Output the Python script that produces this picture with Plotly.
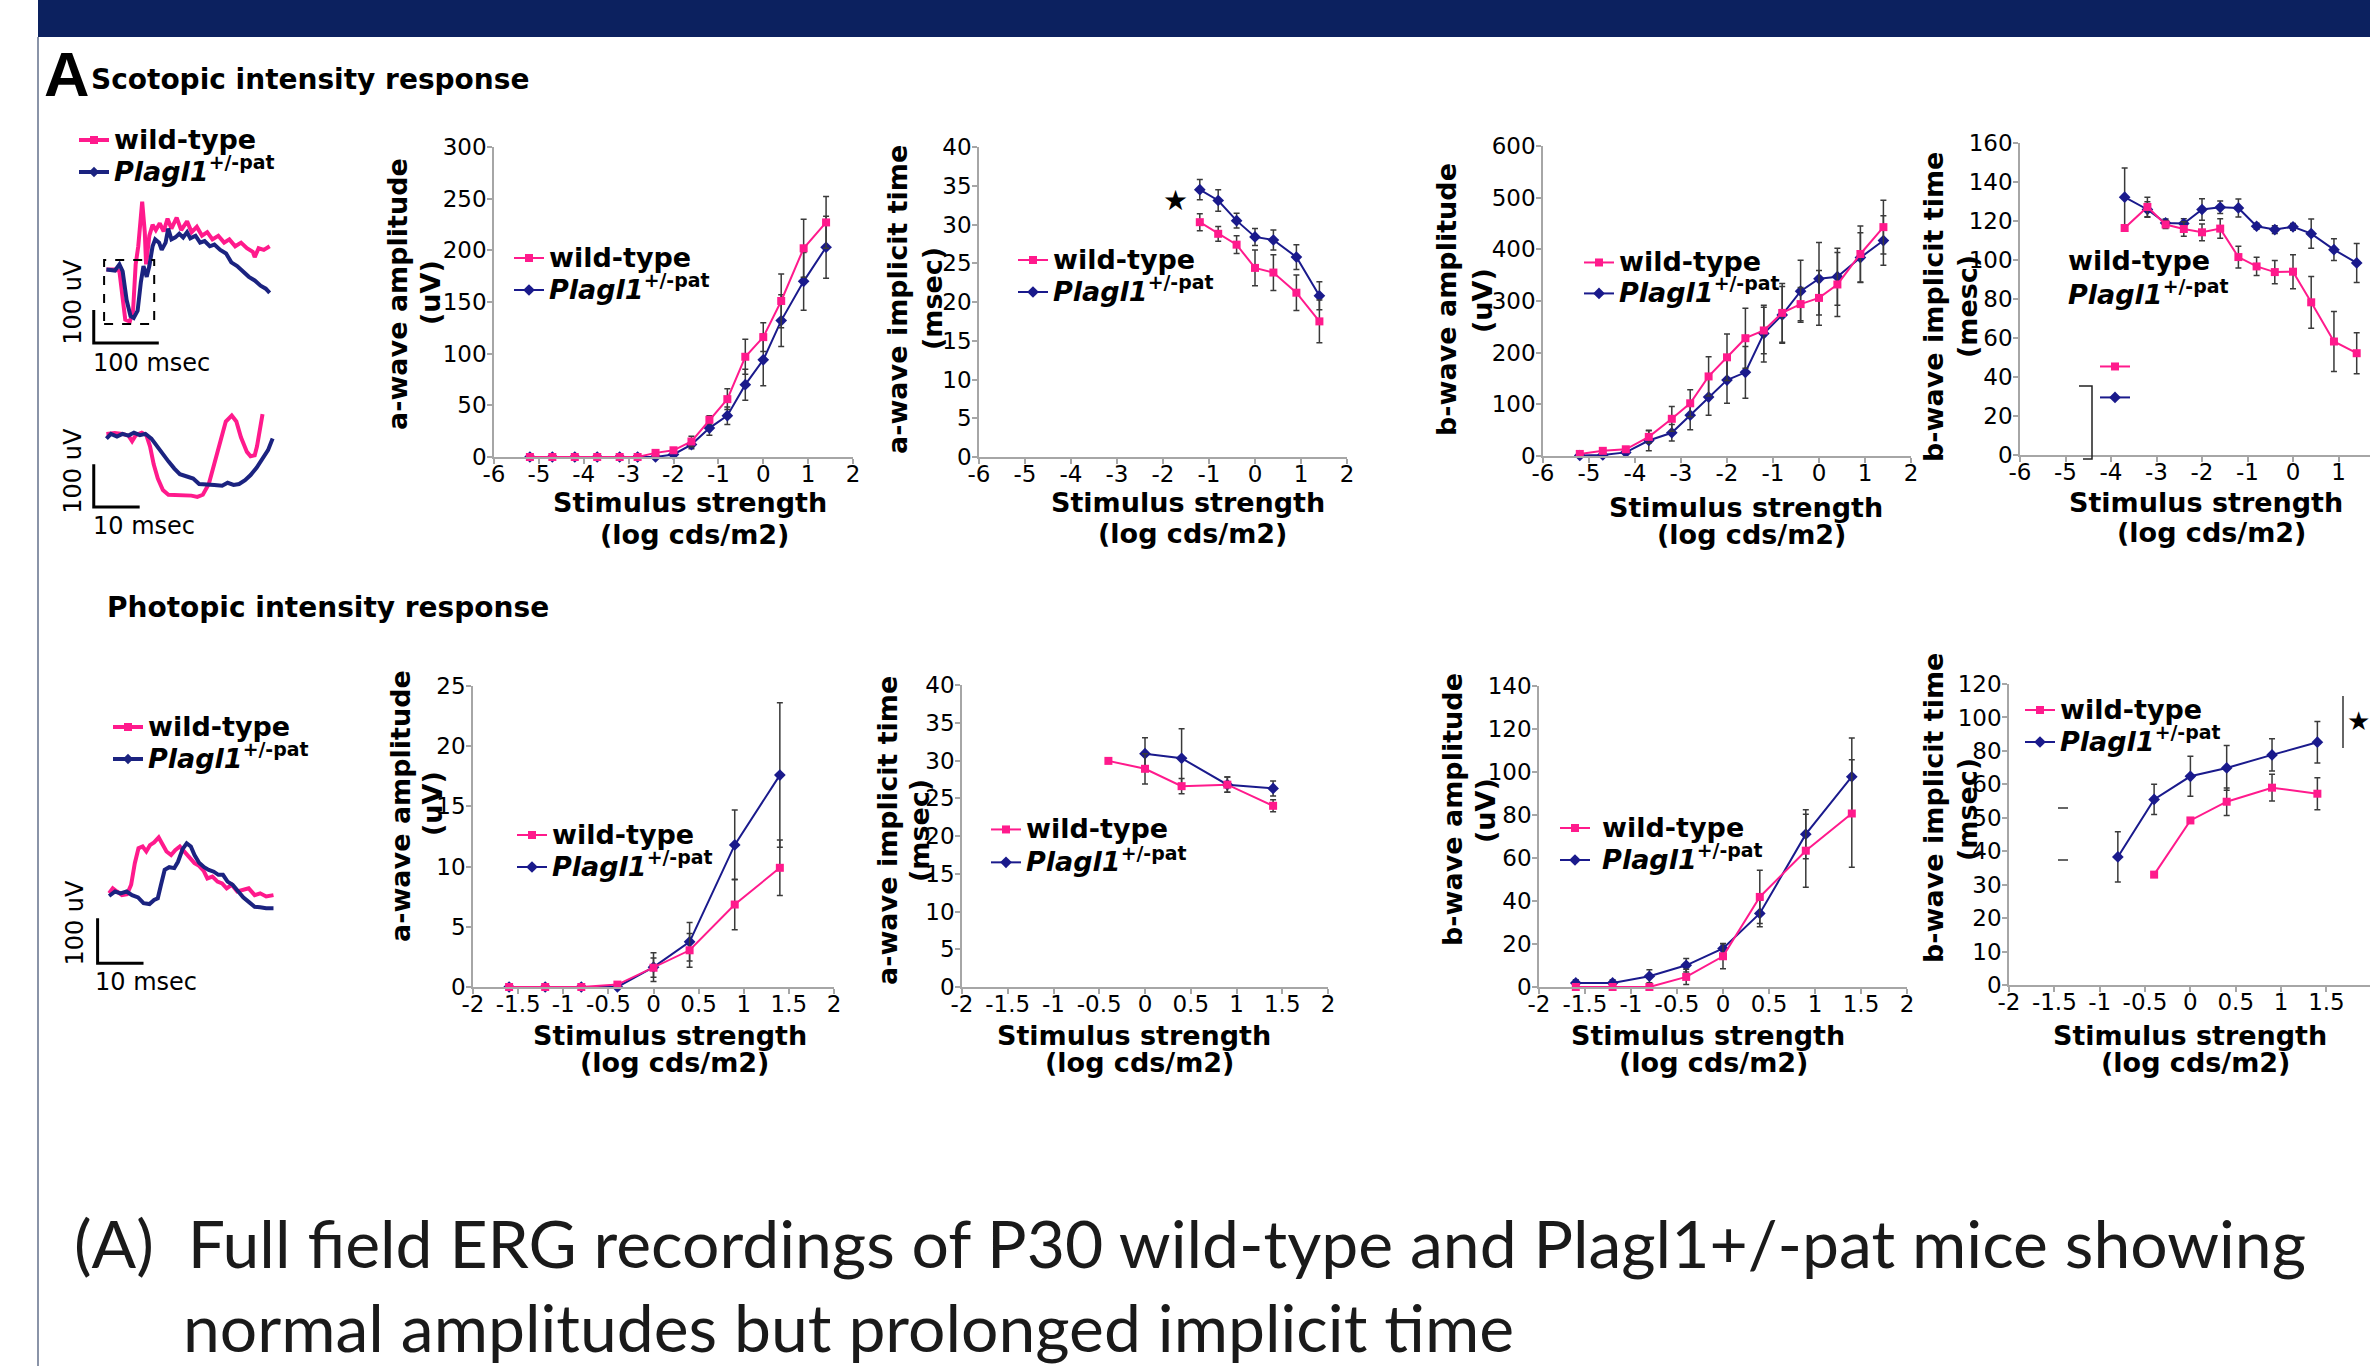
import plotly.graph_objects as go

# ---------------- data ----------------
SCOT_X = [-5.2, -4.7, -4.2, -3.7, -3.2, -2.8, -2.4, -2.0, -1.6, -1.2, -0.8, -0.4, 0, 0.4, 0.9, 1.4]
scot_a_amp_wt = [0, 0, 0, 0, 0, 0, 4, 6.5, 15, 36, 56, 97, 116, 151, 202, 227]
scot_a_amp_wt_err = [0, 0, 0, 0, 0, 0, 1, 2, 5, 4, 10, 17, 14, 26, 28, 25]
scot_a_amp_ko = [0, 0, 0, 0, 0, 0, 0, 2.5, 12, 28, 40, 70, 94, 132, 170, 203]
scot_a_amp_ko_err = [0, 0, 0, 0, 0, 0, 0, 1, 4, 7, 8.5, 15, 25, 25, 28, 30]

SCOT_IT_X = [-1.2, -0.8, -0.4, 0, 0.4, 0.9, 1.4]
scot_a_it_wt = [30.3, 28.8, 27.4, 24.4, 23.8, 21.2, 17.5]
scot_a_it_wt_err = [1.1, 0.95, 1.15, 2.3, 2.3, 2.3, 2.75]
scot_a_it_ko = [34.5, 33.1, 30.5, 28.4, 28.0, 25.8, 20.8]
scot_a_it_ko_err = [1.3, 1.4, 0.95, 1.1, 1.3, 1.6, 1.8]

scot_b_amp_wt = [4, 10, 13, 37, 72, 102, 154, 191, 228, 243, 277, 294, 306, 332, 391, 443]
scot_b_amp_wt_err = [2, 4, 5, 12, 24, 26, 38, 45, 58, 45, 57, 32, 53, 62, 54, 52]
scot_b_amp_ko = [1, 2, 7, 30, 45, 79, 114, 147, 162, 237, 273, 319, 343, 347, 384, 417]
scot_b_amp_ko_err = [1, 2, 4, 20, 16, 28, 35, 45, 50, 55, 55, 60, 70, 55, 48, 48]

SCOT_BIT_X = [-3.7, -3.2, -2.8, -2.4, -2.0, -1.6, -1.2, -0.8, -0.4, 0, 0.4, 0.9, 1.4]
scot_b_it_wt = [116.4, 127.2, 118.2, 115.9, 114.2, 116.1, 101.5, 96.7, 93.8, 94.0, 78.3, 58.2, 52.2]
scot_b_it_wt_err = [0, 5, 2, 3.7, 4.3, 5, 5.6, 4.7, 6, 8.7, 13.3, 15.4, 10.5]
scot_b_it_ko = [132.2, 125.9, 119, 118.7, 125.9, 127, 126.7, 117.3, 115.6, 117, 113.5, 105.3, 98.5]
scot_b_it_ko_err = [15, 4, 2, 2.5, 5.5, 3.2, 4.6, 1.5, 2, 1.7, 7.5, 5.6, 10]

PHOT_X = [-1.6, -1.2, -0.8, -0.4, 0, 0.4, 0.9, 1.4]
phot_a_amp_wt = [0, 0, 0, 0.2, 1.6, 3.05, 6.85, 9.9]
phot_a_amp_wt_err = [0, 0, 0, 0, 0.8, 1.4, 2.1, 2.3]
phot_a_amp_ko = [0, 0, 0, 0, 1.65, 3.75, 11.8, 17.6]
phot_a_amp_ko_err = [0, 0, 0, 0, 1.2, 1.6, 2.9, 6.0]

PHOT_A_IT_WT_X = [-0.4, 0, 0.4, 0.9, 1.4]
phot_a_it_wt = [29.95, 28.9, 26.6, 26.8, 24.0]
phot_a_it_wt_err = [0, 2.0, 1.0, 1.0, 0.8]
PHOT_A_IT_KO_X = [0, 0.4, 0.9, 1.4]
phot_a_it_ko = [30.9, 30.3, 26.8, 26.3]
phot_a_it_ko_err = [2.1, 3.9, 1.0, 1.0]

phot_b_amp_wt = [0, 0, 0, 4.7, 14.3, 41.9, 63.4, 80.7]
phot_b_amp_wt_err = [0, 0, 0, 3.5, 5.8, 12.4, 17, 25]
phot_b_amp_ko = [1.9, 1.9, 5, 10.1, 17.9, 34.2, 71.1, 97.8]
phot_b_amp_ko_err = [1.5, 1.5, 3, 3.1, 2.3, 6.2, 11.4, 18]

# photopic b-wave implicit time: values in the panel's (evenly spaced) tick units
PHOT_B_IT_WT_X = [-0.4, 0, 0.4, 0.9, 1.4]
phot_b_it_wt = [33.0, 49.2, 54.8, 59.0, 57.2]
phot_b_it_wt_err = [0, 0, 4.1, 4.0, 4.8]
PHOT_B_IT_KO_X = [-0.8, -0.4, 0, 0.4, 0.9, 1.4]
phot_b_it_ko = [38.3, 55.5, 62.4, 64.9, 68.8, 72.6]
phot_b_it_ko_err = [7.5, 4.5, 6, 6.7, 4.8, 6.2]
PHOT_B_IT_TICKVALS = [0, 10, 20, 30, 40, 50, 60, 70, 80, 90]
PHOT_B_IT_TICKTEXT = ["0", "10", "20", "30", "40", "50", "60", "80", "100", "120"]

SCOT_TICKVALS = [-6, -5, -4, -3, -2, -1, 0, 1, 2]
SCOT_TICKTEXT = ["-6", "-5", "-4", "-3", "-2", "-1", "0", "1", "2"]
PHOT_TICKVALS = [-2, -1.5, -1, -0.5, 0, 0.5, 1, 1.5, 2]
PHOT_TICKTEXT = ["-2", "-1.5", "-1", "-0.5", "0", "0.5", "1", "1.5", "2"]

# ERG waveforms (time in msec, amplitude in uV)
scot_wave_t_wt = [0, 13, 20, 25, 29, 36, 41, 45, 49, 55, 59, 61, 66, 71, 76, 82, 88, 94, 100, 108, 115, 124, 131,
                  139, 147, 155, 163, 172, 181, 189, 198, 207, 216, 225, 228, 234, 242, 251]
scot_wave_v_wt = [0, 0, -5, -82, -152, -158, -125, 16, 71, 207, 114, 16, 103, 136, 120, 141, 116, 155, 125, 158, 120,
                  147, 114, 130, 103, 114, 92, 103, 82, 92, 71, 82, 65, 54, 38, 65, 60, 71]
scot_wave_t_ko = [0, 13, 20, 25, 31, 37, 42, 48, 53, 57, 62, 66, 71, 75, 81, 85, 91, 95, 100, 106, 112, 118, 124, 129,
                  137, 144, 151, 159, 166, 175, 184, 192, 201, 209, 219, 228, 237, 245, 251]
scot_wave_v_ko = [0, -3, 16, -5, -92, -141, -147, -125, -38, 11, -22, 11, 71, 92, 82, 60, 82, 125, 92, 98, 109, 98,
                  114, 95, 103, 82, 87, 71, 76, 60, 49, 22, 11, -5, -22, -33, -49, -58, -71]

zoom_wave_t_wt = [0, 1.8, 3.5, 4.8, 5.6, 6.4, 7.7, 8.7, 9.5, 10.3, 11.2, 12.3, 13.5, 15.2, 16.8, 18.5, 19.8, 21, 22.3,
                  23.5, 24.8, 26, 27.3, 28.3, 29.3, 30.6, 31.4, 32.3, 32.8, 33.5, 34]
zoom_wave_v_wt = [0, 2, 0, -4, -17, -3, 3, -3, -29, -71, -104, -131, -142, -142, -142, -144, -147, -142, -117, -71,
                  -13, 29, 43, 29, -8, -42, -52, -50, -29, 13, 46]
zoom_wave_t_ko = [0, 1, 2.3, 3.5, 4.8, 6, 7.3, 8.5, 9.8, 11, 12.3, 13.5, 14.8, 16, 17.7, 18.9, 20.2, 21.8, 23.5, 25.2,
                  26.4, 27.7, 28.9, 30.2, 31.4, 32.7, 33.9, 35.2, 36.2]
zoom_wave_v_ko = [-11, 0, -6, 0, -4, 3, -3, 0, -11, -29, -48, -64, -81, -94, -100, -104, -117, -117, -119, -121, -114,
                  -119, -117, -108, -96, -79, -58, -38, -11]

phot_wave_t_wt = [0, 0.8, 1.7, 2.8, 3.9, 4.8, 5.6, 6.4, 7.3, 8.1, 8.9, 9.8, 10.8, 11.7, 12.5, 13.5, 14.4, 15.4, 16.4,
                  17.5, 18.6, 19.6, 20.6, 21.4, 22.5, 23.6, 24.6, 25.6, 26.7, 27.9, 29.2, 30.4, 31.7, 32.9, 34.2, 35.8]
phot_wave_v_wt = [0, 11, 4, -4, -2, 19, 67, 100, 104, 93, 107, 113, 124, 107, 93, 85, 96, 104, 93, 78, 67, 61, 50, 33,
                  37, 26, 22, 11, 19, 4, 7, 11, -4, 0, -7, -4]
phot_wave_t_ko = [0, 1.3, 2.5, 3.8, 5, 6.3, 7.5, 8.8, 9.8, 10.6, 11.3, 12.1, 13.1, 14.2, 15, 16, 16.9, 17.8, 18.6,
                  19.6, 20.7, 21.7, 22.8, 23.8, 24.8, 25.8, 26.9, 28.1, 29.2, 30.4, 31.7, 32.9, 34.2, 35.8]
phot_wave_v_ko = [-6, 4, 0, 4, -4, -9, -22, -24, -15, -11, 19, 52, 58, 56, 70, 98, 111, 104, 85, 68, 58, 52, 48, 41,
                  41, 26, 19, 4, -9, -19, -30, -31, -33, -33]

# ---------------- styling / layout helpers ----------------
W, H = 2370, 1366
PINK = "#FF1A8C"
NAVY = "#1A1A8C"
WAVE_PINK = "#FF1A8C"
WAVE_BLUE = "#1B2380"
ERRC = "#3A3A3A"
AXC = "#A6A6A6"
FONT = "DejaVu Sans"


def fx(p):
    return p / W


def fy(p):
    return 1 - p / H


def names(n):
    return ("x" if n == 1 else f"x{n}", "y" if n == 1 else f"y{n}",
            "xaxis" if n == 1 else f"xaxis{n}", "yaxis" if n == 1 else f"yaxis{n}")


def legname(n):
    return "legend" if n == 1 else f"legend{n}"


WT_NAME = "<span style='font-size:27px'><b>wild-type</b></span>"
KO_NAME = "<span style='font-size:27px'><b><i>Plagl1</i><sup>+/-pat</sup></b></span>"

fig = go.Figure()
layout = {}
annotations = []
shapes = []

# legend font size only sets the row spacing (text size is given in the names)
panels = [
    dict(n=1, xp=(494, 853), yp=(147, 457), x0=-6, ppu=(853 - 494) / 8, yr=(0, 300), dt=50, tv=SCOT_TICKVALS,
         tt=SCOT_TICKTEXT, wt=(SCOT_X, scot_a_amp_wt, scot_a_amp_wt_err), ko=(SCOT_X, scot_a_amp_ko, scot_a_amp_ko_err),
         leg=(509, 237, 22.3)),
    dict(n=2, xp=(979, 1347), yp=(147, 457), x0=-6, ppu=(1347 - 979) / 8, yr=(0, 40), dt=5, tv=SCOT_TICKVALS,
         tt=SCOT_TICKTEXT, wt=(SCOT_IT_X, scot_a_it_wt, scot_a_it_wt_err),
         ko=(SCOT_IT_X, scot_a_it_ko, scot_a_it_ko_err), leg=(1013, 239, 22.3)),
    dict(n=3, xp=(1543, 1911), yp=(146, 456), x0=-6, ppu=(1911 - 1543) / 8, yr=(0, 600), dt=100, tv=SCOT_TICKVALS,
         tt=SCOT_TICKTEXT, wt=(SCOT_X, scot_b_amp_wt, scot_b_amp_wt_err), ko=(SCOT_X, scot_b_amp_ko, scot_b_amp_ko_err),
         leg=(1579, 242, 21.5)),
    dict(n=4, xp=(2020, 2370), yp=(143, 455), x0=-6, ppu=45.5, yr=(0, 160), dt=20, tv=SCOT_TICKVALS,
         tt=SCOT_TICKTEXT, wt=(SCOT_BIT_X, scot_b_it_wt, scot_b_it_wt_err),
         ko=(SCOT_BIT_X, scot_b_it_ko, scot_b_it_ko_err), leg=(2095, 346, 21.5), blank=True),
    dict(n=5, xp=(473, 834), yp=(686, 987), x0=-2, ppu=(834 - 473) / 4, yr=(0, 25), dt=5, tv=PHOT_TICKVALS,
         tt=PHOT_TICKTEXT, wt=(PHOT_X, phot_a_amp_wt, phot_a_amp_wt_err), ko=(PHOT_X, phot_a_amp_ko, phot_a_amp_ko_err),
         leg=(512, 814, 22.3)),
    dict(n=6, xp=(962, 1328), yp=(685, 987), x0=-2, ppu=(1328 - 962) / 4, yr=(0, 40), dt=5, tv=PHOT_TICKVALS,
         tt=PHOT_TICKTEXT, wt=(PHOT_A_IT_WT_X, phot_a_it_wt, phot_a_it_wt_err),
         ko=(PHOT_A_IT_KO_X, phot_a_it_ko, phot_a_it_ko_err), leg=(986, 808, 23)),
    dict(n=7, xp=(1539, 1907), yp=(686, 987), x0=-2, ppu=(1907 - 1539) / 4, yr=(0, 140), dt=20, tv=PHOT_TICKVALS,
         tt=PHOT_TICKTEXT, wt=(PHOT_X, phot_b_amp_wt, phot_b_amp_wt_err), ko=(PHOT_X, phot_b_amp_ko, phot_b_amp_ko_err),
         leg=(1555, 807, 22.3), pad=" "),
    dict(n=8, xp=(2009, 2370), yp=(684, 985), x0=-2, ppu=90.7, yr=(0, 90), dt=None, tv=PHOT_TICKVALS,
         tt=PHOT_TICKTEXT, wt=(PHOT_B_IT_WT_X, phot_b_it_wt, phot_b_it_wt_err),
         ko=(PHOT_B_IT_KO_X, phot_b_it_ko, phot_b_it_ko_err), leg=(2020, 689, 22.3),
         ytv=PHOT_B_IT_TICKVALS, ytt=PHOT_B_IT_TICKTEXT),
]

for p in panels:
    n = p["n"]
    xn, yn, xk, yk = names(n)
    lg = legname(n)
    pad = p.get("pad", "")
    if p.get("blank"):
        wn, kn = " ", " "
    else:
        wn, kn = pad + WT_NAME, pad + KO_NAME
    kx, ky, ke = p["ko"]
    wx, wy, we = p["wt"]
    fig.add_trace(go.Scatter(
        x=kx, y=ky, mode="lines+markers", name=kn, legend=lg, legendrank=2,
        xaxis=xn, yaxis=yn, cliponaxis=False,
        line=dict(color=NAVY, width=2),
        marker=dict(symbol="diamond", size=9, color=NAVY),
        error_y=dict(type="data", array=ke, visible=True, color=ERRC, thickness=1.5, width=3)))
    fig.add_trace(go.Scatter(
        x=wx, y=wy, mode="lines+markers", name=wn, legend=lg, legendrank=1,
        xaxis=xn, yaxis=yn, cliponaxis=False,
        line=dict(color=PINK, width=2),
        marker=dict(symbol="square", size=8, color=PINK),
        error_y=dict(type="data", array=we, visible=True, color=ERRC, thickness=1.5, width=3)))
    x_end = p["x0"] + (p["xp"][1] - p["xp"][0]) / p["ppu"]
    layout[xk] = dict(domain=[fx(p["xp"][0]), fx(p["xp"][1])], range=[p["x0"], x_end], anchor=yn,
                      tickmode="array", tickvals=p["tv"], ticktext=p["tt"], showline=True, linecolor=AXC,
                      linewidth=1.5, ticks="outside", ticklen=5, tickcolor=AXC, tickwidth=1.5, showgrid=False,
                      zeroline=False, automargin=False, ticklabelstandoff=-9,
                      tickfont=dict(family=FONT, size=23, color="black"), fixedrange=True)
    ya = dict(domain=[fy(p["yp"][1]), fy(p["yp"][0])], range=list(p["yr"]), anchor=xn,
              showline=True, linecolor=AXC, linewidth=1.5, ticks="outside", ticklen=5, tickcolor=AXC,
              tickwidth=1.5, showgrid=False, zeroline=False, automargin=False, ticklabelstandoff=-4,
              tickfont=dict(family=FONT, size=23, color="black"), fixedrange=True)
    if p.get("ytv"):
        ya.update(tickmode="array", tickvals=p["ytv"], ticktext=p["ytt"])
    else:
        ya.update(tick0=0, dtick=p["dt"])
    layout[yk] = ya
    lx, ly, lfs = p["leg"]
    layout[lg] = dict(x=fx(lx), y=fy(ly), xanchor="left", yanchor="top",
                      bgcolor="rgba(0,0,0,0)", borderwidth=0, itemwidth=30, tracegroupgap=0,
                      font=dict(family=FONT, size=lfs, color="black"), traceorder="normal")

# ---------------- ERG waveform insets ----------------
insets = [
    dict(n=9, xp=(60, 290), yp=(170, 380), t0=106.4, ppm=0.6505, v0=269.6, ppv=0.3286, bar=(93.75, 342.9), bms=100,
         wt=(scot_wave_t_wt, scot_wave_v_wt), ko=(scot_wave_t_ko, scot_wave_v_ko), leg=(74, 119, 22.3)),
    dict(n=10, xp=(60, 290), yp=(395, 530), t0=106.4, ppm=4.592, v0=433.9, ppv=0.4286, bar=(93.75, 507.1), bms=10,
         wt=(zoom_wave_t_wt, zoom_wave_v_wt), ko=(zoom_wave_t_ko, zoom_wave_v_ko), leg=None),
    dict(n=11, xp=(60, 290), yp=(830, 1000), t0=109.1, ppm=4.592, v0=893.3, ppv=0.45, bar=(97.6, 963.3), bms=10,
         wt=(phot_wave_t_wt, phot_wave_v_wt), ko=(phot_wave_t_ko, phot_wave_v_ko), leg=(108, 706, 22.3)),
]
for s in insets:
    n = s["n"]
    xn, yn, xk, yk = names(n)
    lg = "legend10" if n == 11 else "legend9"
    show = s["leg"] is not None
    for (tt, vv), col, sym, nm, rank in [(s["wt"], WAVE_PINK, "square", WT_NAME, 1),
                                        (s["ko"], WAVE_BLUE, "diamond", KO_NAME, 2)]:
        fig.add_trace(go.Scatter(
            x=tt, y=vv, mode="lines+markers", name=nm, showlegend=show, legend=lg, legendrank=rank,
            xaxis=xn, yaxis=yn, cliponaxis=False, line=dict(color=col, width=4),
            marker=dict(symbol=sym, size=8, color=col),
            selectedpoints=[], unselected=dict(marker=dict(opacity=0))))
    t_lo = (s["xp"][0] - s["t0"]) / s["ppm"]
    t_hi = (s["xp"][1] - s["t0"]) / s["ppm"]
    v_lo = (s["v0"] - s["yp"][1]) / s["ppv"]
    v_hi = (s["v0"] - s["yp"][0]) / s["ppv"]
    layout[xk] = dict(domain=[fx(s["xp"][0]), fx(s["xp"][1])], range=[t_lo, t_hi], visible=False, anchor=yn,
                      fixedrange=True, automargin=False)
    layout[yk] = dict(domain=[fy(s["yp"][1]), fy(s["yp"][0])], range=[v_lo, v_hi], visible=False, anchor=xn,
                      fixedrange=True, automargin=False)
    bt = (s["bar"][0] - s["t0"]) / s["ppm"]
    bv = (s["v0"] - s["bar"][1]) / s["ppv"]
    shapes.append(dict(type="path", xref=xn, yref=yn,
                       path=f"M{bt},{bv + 100} L{bt},{bv} L{bt + s['bms']},{bv}",
                       line=dict(color="black", width=3)))
    if show:
        lx, ly, fs = s["leg"]
        layout[lg] = dict(x=fx(lx), y=fy(ly), xanchor="left", yanchor="top", bgcolor="rgba(0,0,0,0)",
                          borderwidth=0, itemwidth=30, tracegroupgap=0, traceorder="normal",
                          font=dict(family=FONT, size=fs, color="black"))

# dashed zoom box on the top scotopic waveform
s9 = insets[0]
shapes.append(dict(type="rect", xref="x9", yref="y9",
                   x0=(104.1 - s9["t0"]) / s9["ppm"], x1=(154.2 - s9["t0"]) / s9["ppm"],
                   y0=(s9["v0"] - 323.9) / s9["ppv"], y1=(s9["v0"] - 260) / s9["ppv"],
                   line=dict(color="black", width=2, dash="dash")))

# scale-bar labels
for txt, cx, cy, ang in [("100 uV", 72.7, 302, -90), ("100 msec", 151.7, 362.5, 0),
                         ("100 uV", 72.7, 471, -90), ("10 msec", 143.5, 525.7, 0),
                         ("100 uV", 74.6, 923, -90), ("10 msec", 146.4, 981.7, 0)]:
    annotations.append(dict(text=txt, x=fx(cx), y=fy(cy), xref="paper", yref="paper", showarrow=False,
                            xanchor="center", yanchor="middle", textangle=ang,
                            font=dict(family=FONT, size=24, color="black")))

# ---------------- axis titles ----------------
ytitles = [("a-wave amplitude", 398, 294), ("(uV)", 430, 293),
           ("a-wave implicit time", 898, 300), ("(msec)", 932, 299),
           ("b-wave amplitude", 1447, 300), ("(uV)", 1482, 301),
           ("b-wave implicit time", 1933, 307), ("(mesc)", 1967, 306),
           ("a-wave amplitude", 400, 806), ("(uV)", 432, 804),
           ("a-wave implicit time", 888, 831), ("(msec)", 920, 831),
           ("b-wave amplitude", 1452, 810), ("(uV)", 1485, 811),
           ("b-wave implicit time", 1933, 808), ("(msec)", 1967, 809)]
for txt, cx, cy in ytitles:
    annotations.append(dict(text=f"<b>{txt}</b>", x=fx(cx), y=fy(cy), xref="paper", yref="paper",
                            showarrow=False, xanchor="center", yanchor="middle", textangle=-90,
                            font=dict(family=FONT, size=27, color="black")))
xt_pos = [(690, 503, 694, 534), (1188, 503, 1192, 533), (1746, 507, 1751, 535), (2206, 503, 2211, 532),
          (670, 1035, 674, 1062), (1134, 1035, 1139, 1062), (1708, 1035, 1713, 1062), (2190, 1035, 2195, 1062)]
for a, b, c, d in xt_pos:
    annotations.append(dict(text="<b>Stimulus strength</b>", x=fx(a), y=fy(b), xref="paper", yref="paper",
                            showarrow=False, xanchor="center", yanchor="middle",
                            font=dict(family=FONT, size=27, color="black")))
    annotations.append(dict(text="<b>(log cds/m2)</b>", x=fx(c), y=fy(d), xref="paper", yref="paper",
                            showarrow=False, xanchor="center", yanchor="middle",
                            font=dict(family=FONT, size=27, color="black")))

# detached legend text of the scotopic b-wave implicit time panel
annotations.append(dict(text="<b>wild-type</b>", x=fx(2066), y=fy(260), xref="paper", yref="paper",
                        showarrow=False, xanchor="left", yanchor="middle",
                        font=dict(family=FONT, size=27, color="black")))
annotations.append(dict(text="<b><i>Plagl1</i><sup>+/-pat</sup></b>", x=fx(2066), y=fy(292), xref="paper",
                        yref="paper", showarrow=False, xanchor="left", yanchor="middle",
                        font=dict(family=FONT, size=27, color="black")))

# headings
annotations.append(dict(text="<b>A</b>", x=fx(42), y=fy(74), xref="paper", yref="paper", showarrow=False,
                        xanchor="left", yanchor="middle",
                        font=dict(family="Liberation Sans", size=63, color="black")))
annotations.append(dict(text="<b>Scotopic intensity response</b>", x=fx(89), y=fy(79), xref="paper",
                        yref="paper", showarrow=False, xanchor="left", yanchor="middle",
                        font=dict(family=FONT, size=28, color="black")))
annotations.append(dict(text="<b>Photopic intensity response</b>", x=fx(105), y=fy(607), xref="paper",
                        yref="paper", showarrow=False, xanchor="left", yanchor="middle",
                        font=dict(family=FONT, size=28, color="black")))
# significance stars
annotations.append(dict(text="★", x=fx(1175), y=fy(200), xref="paper", yref="paper", showarrow=False,
                        xanchor="center", yanchor="middle", font=dict(family=FONT, size=28, color="black")))
annotations.append(dict(text="★", x=fx(2358), y=fy(721), xref="paper", yref="paper", showarrow=False,
                        xanchor="center", yanchor="middle", font=dict(family=FONT, size=26, color="black")))

# caption
annotations.append(dict(text="(A)  Full field ERG recordings of P30 wild-type and Plagl1+/-pat mice showing",
                        x=fx(72), y=fy(1242), xref="paper", yref="paper", showarrow=False, xanchor="left",
                        yanchor="middle", font=dict(family="Lato", size=66, color="#1A1A1A")))
annotations.append(dict(text="normal amplitudes but prolonged implicit time",
                        x=fx(181), y=fy(1326), xref="paper", yref="paper", showarrow=False, xanchor="left",
                        yanchor="middle", font=dict(family="Lato", size=66, color="#1A1A1A")))

# slide decorations
shapes.append(dict(type="rect", xref="paper", yref="paper", x0=fx(38), x1=1, y0=fy(37), y1=1,
                   fillcolor="#0C215F", line=dict(width=0), layer="below"))
shapes.append(dict(type="line", xref="paper", yref="paper", x0=fx(38), x1=fx(38), y0=0, y1=fy(37),
                   line=dict(color="#8A94A8", width=2)))
# bracket and marks present in the figure
shapes.append(dict(type="path", xref="paper", yref="paper",
                   path=f"M{fx(2079)},{fy(386)} L{fx(2092)},{fy(386)} L{fx(2092)},{fy(459)} L{fx(2083)},{fy(459)}",
                   line=dict(color="#222222", width=1.5)))
shapes.append(dict(type="line", xref="paper", yref="paper", x0=fx(2343), x1=fx(2343), y0=fy(748), y1=fy(696),
                   line=dict(color="#333333", width=1.5)))
for yy in (808, 860):
    shapes.append(dict(type="line", xref="paper", yref="paper", x0=fx(2058), x1=fx(2068), y0=fy(yy), y1=fy(yy),
                       line=dict(color="#333333", width=1.5)))

fig.update_layout(width=W, height=H, margin=dict(l=0, r=0, t=0, b=0, pad=0, autoexpand=False),
                  paper_bgcolor="white", plot_bgcolor="rgba(0,0,0,0)", showlegend=True, hovermode=False,
                  annotations=annotations, shapes=shapes, **layout)

fig.write_html("out.html", config={"displayModeBar": False},
               post_script="document.body.style.margin='0px';document.body.style.overflow='hidden';")
